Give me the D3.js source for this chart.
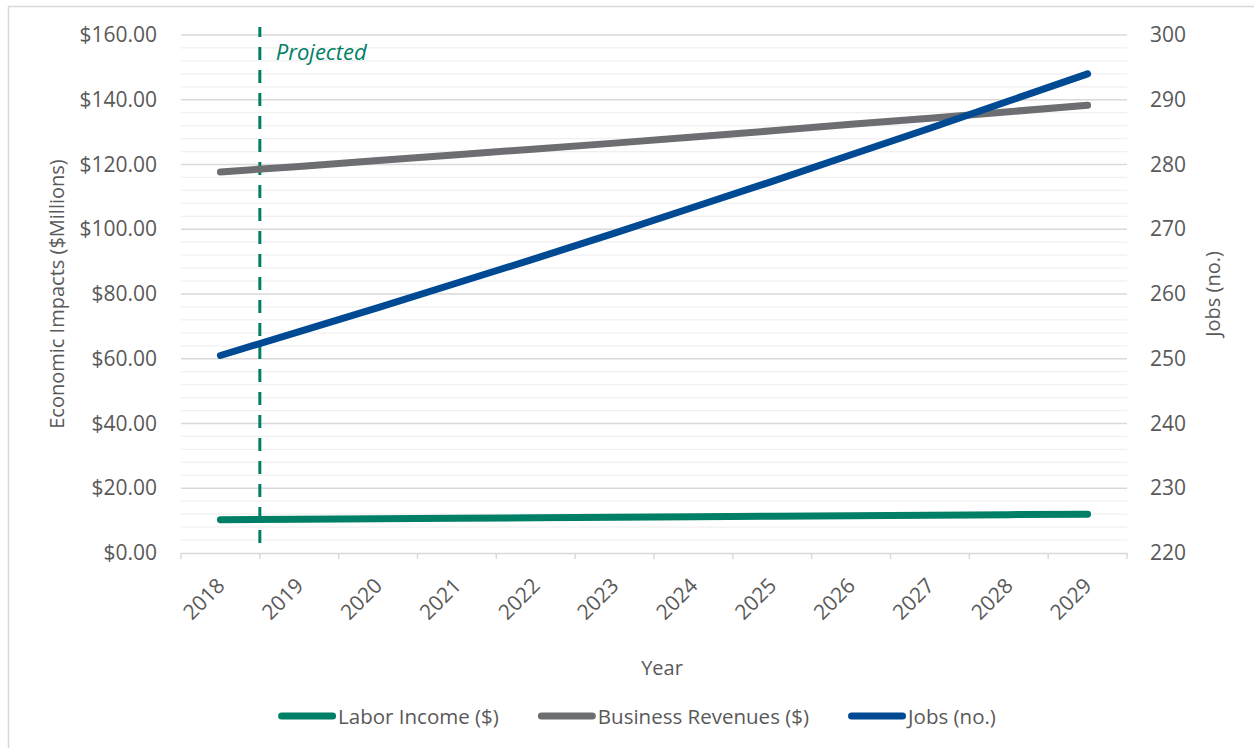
<!DOCTYPE html>
<html>
<head>
<meta charset="utf-8">
<script src="https://cdn.jsdelivr.net/npm/d3@7"></script>
<style>
  html, body { margin: 0; padding: 0; background: #ffffff; }
  svg { display: block; font-family: "Open Sans", "Noto Sans", sans-serif; }
</style>
</head>
<body>
<svg id="chart" width="1254" height="748"></svg>
<script>
// Economic impacts by year, with jobs on a secondary axis
const years = [2018, 2019, 2020, 2021, 2022, 2023, 2024, 2025, 2026, 2027, 2028, 2029];
const laborIncome = [10.3, 10.44, 10.59, 10.74, 10.89, 11.04, 11.19, 11.35, 11.51, 11.67, 11.84, 12.0];
const businessRevenues = [117.7, 119.4, 121.2, 123.0, 124.8, 126.6, 128.5, 130.4, 132.4, 134.3, 136.3, 138.3];
const jobs = [250.5, 254.2, 257.9, 261.7, 265.5, 269.4, 273.4, 277.4, 281.5, 285.6, 289.8, 294.0];

const leftTicks = [0, 20, 40, 60, 80, 100, 120, 140, 160];
const rightTicks = [220, 230, 240, 250, 260, 270, 280, 290, 300];
const projectedStart = 2019;

const seriesNames = ["Labor Income ($)", "Business Revenues ($)", "Jobs (no.)"];
const seriesColors = ["#007F67", "#6D6E71", "#004A94"];

const svg = d3.select("#chart");
const W = 1254, H = 748;
const plot = { left: 181, right: 1127, top: 35, bottom: 553 };
const textColor = "#595959";
const tickSize = 21;

// chart frame (top and left edges)
svg.append("path")
  .attr("d", `M8.5,${H} V6.5 H${W}`)
  .attr("fill", "none").attr("stroke", "#D9D9D9").attr("stroke-width", 1.5);

const x = d3.scaleBand().domain(years).range([plot.left, plot.right]).padding(0);
const yL = d3.scaleLinear().domain([0, 160]).range([plot.bottom, plot.top]);
const yR = d3.scaleLinear().domain([220, 300]).range([plot.bottom, plot.top]);
const cx = d => x(d) + x.bandwidth() / 2;

// minor gridlines
const minor = d3.range(4, 160, 4).filter(v => v % 20 !== 0);
svg.append("g").selectAll("line").data(minor).join("line")
  .attr("x1", plot.left).attr("x2", plot.right)
  .attr("y1", d => yL(d)).attr("y2", d => yL(d))
  .attr("stroke", "#F0F0F0").attr("stroke-width", 1.3);

// major gridlines
svg.append("g").selectAll("line").data(leftTicks.filter(v => v > 0)).join("line")
  .attr("x1", plot.left).attr("x2", plot.right)
  .attr("y1", d => yL(d)).attr("y2", d => yL(d))
  .attr("stroke", "#D9D9D9").attr("stroke-width", 1.3);

// category axis
const xAxis = d3.axisBottom(x).tickSize(0).tickFormat("");
const gx = svg.append("g").attr("transform", `translate(0,${plot.bottom})`).call(xAxis);
gx.select(".domain").attr("stroke", "#D9D9D9").attr("stroke-width", 1.5);
const boundaries = years.map(d => x(d)).concat([plot.right]);
gx.selectAll("line.bound").data(boundaries).join("line").attr("class", "bound")
  .attr("x1", d => d).attr("x2", d => d).attr("y1", 0).attr("y2", 6)
  .attr("stroke", "#D9D9D9").attr("stroke-width", 1.5);
svg.append("g").selectAll("text").data(years).join("text")
  .attr("transform", d => `translate(${cx(d) + 5.5},587) rotate(-45)`)
  .attr("text-anchor", "end")
  .attr("fill", textColor).attr("font-size", tickSize)
  .text(d => d);

// left value axis labels
const fmt = d3.format("$,.2f");
const gl = svg.append("g").attr("transform", `translate(${plot.left},0)`)
  .call(d3.axisLeft(yL).tickValues(leftTicks).tickFormat(fmt).tickSize(0).tickPadding(24));
gl.select(".domain").remove();
gl.selectAll("text").attr("fill", textColor).attr("font-size", tickSize)
  .attr("font-family", "Open Sans, Noto Sans, sans-serif");

// right value axis labels
const gr = svg.append("g").attr("transform", `translate(${plot.right},0)`)
  .call(d3.axisRight(yR).tickValues(rightTicks).tickFormat(d3.format("d")).tickSize(0).tickPadding(23));
gr.select(".domain").remove();
gr.selectAll("text").attr("fill", textColor).attr("font-size", tickSize)
  .attr("font-family", "Open Sans, Noto Sans, sans-serif");

// axis titles
svg.append("text")
  .attr("transform", `translate(64,${(plot.top + plot.bottom) / 2}) rotate(-90)`)
  .attr("text-anchor", "middle").attr("fill", textColor).attr("font-size", 20)
  .text("Economic Impacts ($Millions)");
svg.append("text")
  .attr("transform", `translate(1220,${(plot.top + plot.bottom) / 2}) rotate(-90)`)
  .attr("text-anchor", "middle").attr("fill", textColor).attr("font-size", 20)
  .text("Jobs (no.)");
svg.append("text")
  .attr("x", (plot.left + plot.right) / 2 + 8).attr("y", 675)
  .attr("text-anchor", "middle").attr("fill", textColor).attr("font-size", 20)
  .text("Year");

// projection marker
const px = x(projectedStart);
svg.append("line")
  .attr("x1", px).attr("x2", px).attr("y1", 543).attr("y2", 27)
  .attr("stroke", "#007F67").attr("stroke-width", 3)
  .attr("stroke-dasharray", "13,10");
svg.append("text")
  .attr("x", px + 16).attr("y", 60)
  .attr("fill", "#007F67").attr("font-size", 22).attr("font-style", "italic")
  .text("Projected");

// series lines
const series = [
  { values: laborIncome, scale: yL },
  { values: businessRevenues, scale: yL },
  { values: jobs, scale: yR }
];
const line = s => d3.line().x((d, i) => cx(years[i])).y(d => s.scale(d))(s.values);
svg.append("g").selectAll("path").data(series).join("path")
  .attr("d", d => line(d))
  .attr("fill", "none")
  .attr("stroke", (d, i) => seriesColors[i])
  .attr("stroke-width", 7)
  .attr("stroke-linecap", "round")
  .attr("stroke-linejoin", "round");

// legend
const lg = svg.append("g");
const items = lg.selectAll("g").data(seriesNames).join("g");
items.append("line")
  .attr("x1", 3.5).attr("x2", 54.5).attr("y1", 0).attr("y2", 0)
  .attr("stroke", (d, i) => seriesColors[i]).attr("stroke-width", 7)
  .attr("stroke-linecap", "round");
items.append("text")
  .attr("x", 60).attr("y", 7.5)
  .attr("fill", textColor).attr("font-size", 20.5)
  .text(d => d);
let offset = 0;
const gap = 39;
items.each(function () {
  const w = 60 + this.querySelector("text").getComputedTextLength();
  d3.select(this).attr("transform", `translate(${offset},0)`);
  offset += w + gap;
});
const total = offset - gap;
lg.attr("transform", `translate(${637 - total / 2},716)`);
</script>
</body>
</html>
